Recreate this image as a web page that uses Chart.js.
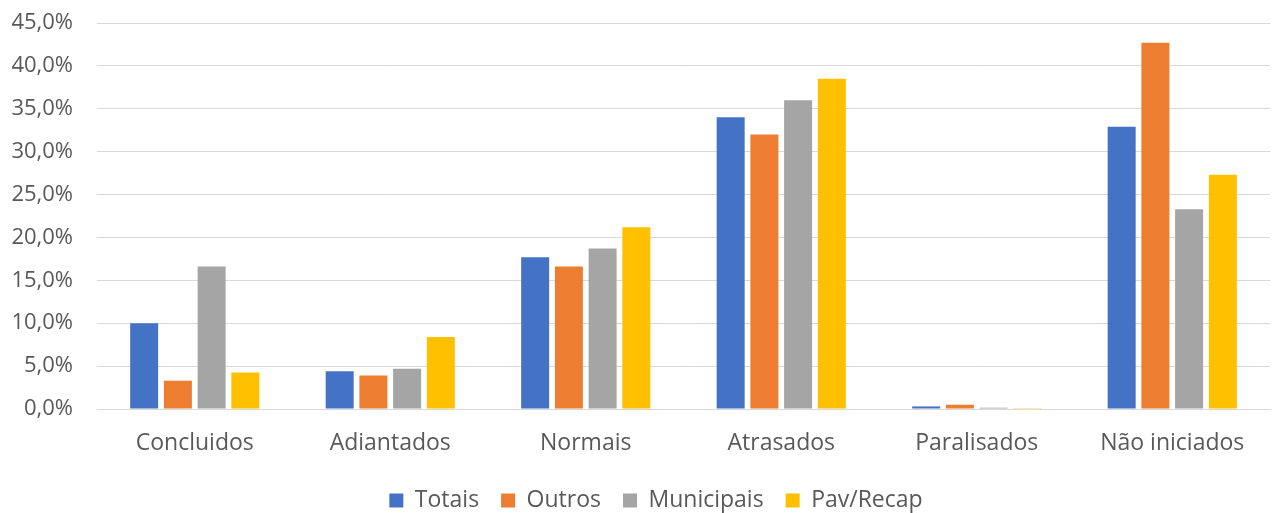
<!DOCTYPE html>
<html>
<head>
<meta charset="utf-8">
<script src="https://cdn.jsdelivr.net/npm/chart.js@4"></script>
<style>
  html, body { margin: 0; padding: 0; background: #fff; }
  #wrap { width: 1272px; height: 513px; position: relative; }
</style>
</head>
<body>
<div id="wrap"><canvas id="chart"></canvas></div>
<script>
const categories = ['Concluidos', 'Adiantados', 'Normais', 'Atrasados', 'Paralisados', 'Não iniciados'];
const totais     = [10.0, 4.4, 17.7, 34.0, 0.3, 32.9];
const outros     = [3.3, 3.9, 16.6, 32.0, 0.5, 42.7];
const municipais = [16.6, 4.7, 18.7, 36.0, 0.15, 23.3];
const pavRecap   = [4.25, 8.4, 21.2, 38.5, 0.1, 27.3];
const yTicks = { min: 0, max: 45, step: 5 };

const font = "'Open Sans', 'Noto Sans', sans-serif";
const textColor = '#595959';

function ds(label, data, color) {
    return {
        label: label,
        data: data,
        backgroundColor: color,
        borderWidth: 0,
        categoryPercentage: 0.69,
        barPercentage: 0.83
    };
}

// nudge the legend a little right of the canvas centre, like the original
const legendShift = {
    id: 'legendShift',
    afterLayout: function (chart) {
        chart.legend.left += 21;
        chart.legend.right += 21;
    }
};

new Chart(document.getElementById('chart').getContext('2d'), {
    type: 'bar',
    data: {
        labels: categories,
        datasets: [
            ds('Totais', totais, '#4472C4'),
            ds('Outros', outros, '#ED7D31'),
            ds('Municipais', municipais, '#A5A5A5'),
            ds('Pav/Recap', pavRecap, '#FFC000')
        ]
    },
    plugins: [legendShift],
    options: {
        responsive: true,
        maintainAspectRatio: false,
        animation: false,
        layout: { padding: { left: 0, right: 2, top: 23, bottom: -9 } },
        plugins: {
            tooltip: { enabled: false },
            legend: {
                position: 'bottom',
                labels: {
                    font: { family: font, size: 23 },
                    color: textColor,
                    boxWidth: 14,
                    boxHeight: 14,
                    padding: 22
                }
            }
        },
        scales: {
            x: {
                grid: { display: false, drawTicks: false },
                border: { display: true, color: '#d9d9d9', width: 1 },
                ticks: {
                    font: { family: font, size: 23 },
                    color: textColor,
                    padding: 21,
                    maxRotation: 0
                },
                afterFit: function (scale) { scale.height = 58; }
            },
            y: {
                min: yTicks.min,
                max: yTicks.max,
                grid: { color: '#d9d9d9', lineWidth: 1, drawTicks: false },
                border: { display: false },
                ticks: {
                    stepSize: yTicks.step,
                    font: { family: font, size: 22 },
                    color: textColor,
                    padding: 24,
                    callback: function (v) { return v.toFixed(1).replace('.', ',') + '%'; }
                },
                afterFit: function (scale) {
                    scale.width = 97;
                    scale.paddingTop = 0;
                    scale.paddingBottom = 0;
                }
            }
        }
    }
});
</script>
</body>
</html>
